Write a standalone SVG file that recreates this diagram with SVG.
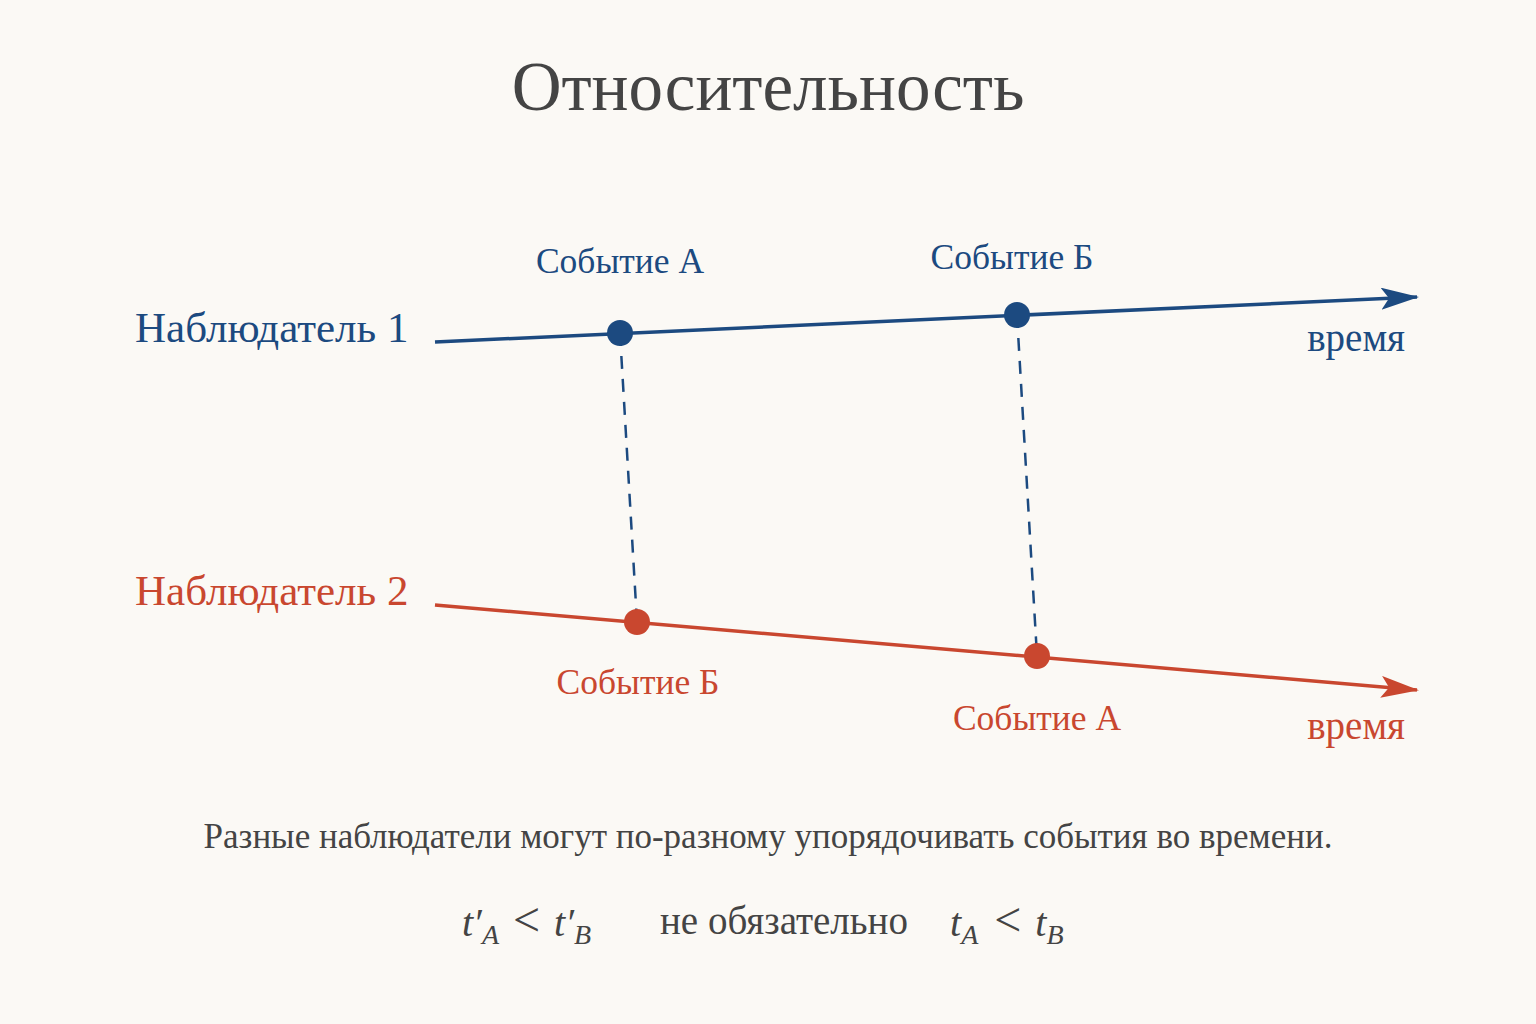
<svg xmlns="http://www.w3.org/2000/svg" width="1536" height="1024" viewBox="0 0 1536 1024">
<style>
text{font-family:"Liberation Serif","DejaVu Serif",serif}
.b{fill:#1c4a80}
.r{fill:#c9472f}
.g{fill:#444444}
.lbl{font-size:43px}
.ev{font-size:35.5px;text-anchor:middle}
.tm{font-size:39px;text-anchor:end}
.m{font-size:40px;font-style:italic}
.s{font-size:28px;font-style:italic}
.lt{font-size:48px}
</style>
<defs>
<marker id="ab" viewBox="0 0 38 22" refX="36" refY="11" markerWidth="38" markerHeight="22" markerUnits="userSpaceOnUse" orient="auto"><path d="M0,0 L38,11 L0,22 L8,11 Z" fill="#1c4a80"/></marker>
<marker id="ar" viewBox="0 0 38 22" refX="36" refY="11" markerWidth="38" markerHeight="22" markerUnits="userSpaceOnUse" orient="auto"><path d="M0,0 L38,11 L0,22 L8,11 Z" fill="#c9472f"/></marker>
</defs>
<rect width="1536" height="1024" fill="#fbf9f5"/>
<text x="768" y="110" text-anchor="middle" font-size="69" class="g">Относительность</text>
<g id="connectors">
<line x1="435" y1="342" x2="1417" y2="297" stroke="#1c4a80" stroke-width="3.5" marker-end="url(#ab)"/>
<line x1="435" y1="605" x2="1417" y2="690" stroke="#c9472f" stroke-width="3.5" marker-end="url(#ar)"/>
<line x1="620" y1="333" x2="637" y2="622" stroke="#1c4a80" stroke-width="2.5" stroke-dasharray="13,10"/>
<line x1="1017" y1="315" x2="1037" y2="656" stroke="#1c4a80" stroke-width="2.5" stroke-dasharray="13,10"/>
</g>
<g id="observer1">
<text x="135" y="342" class="lbl b">Наблюдатель 1</text>
<text x="1405" y="351" class="tm b">время</text>
</g>
<g id="observer2">
<text x="135" y="605" class="lbl r">Наблюдатель 2</text>
<text x="1405" y="739" class="tm r">время</text>
</g>
<g id="eventA1"><circle cx="620" cy="333" r="13" fill="#1c4a80"/><text x="620" y="273" class="ev b">Событие А</text></g>
<g id="eventB1"><circle cx="1017" cy="315" r="13" fill="#1c4a80"/><text x="1012" y="269" class="ev b">Событие Б</text></g>
<g id="eventB2"><circle cx="637" cy="622" r="13" fill="#c9472f"/><text x="638" y="694" class="ev r">Событие Б</text></g>
<g id="eventA2"><circle cx="1037" cy="656" r="13" fill="#c9472f"/><text x="1037" y="730" class="ev r">Событие А</text></g>
<g id="caption">
<text x="462" y="936" class="g"><tspan class="m">t′</tspan><tspan class="s" dy="8">A</tspan><tspan class="lt" dy="-8" dx="14">&lt;</tspan><tspan class="m" dx="14">t′</tspan><tspan class="s" dy="8">B</tspan></text>
<text x="768" y="848" text-anchor="middle" font-size="35" class="g">Разные наблюдатели могут по-разному упорядочивать события во времени.</text>
<text x="660" y="934" font-size="39" class="g">не обязательно</text>
<text x="950" y="936" class="g"><tspan class="m">t</tspan><tspan class="s" dy="8">A</tspan><tspan class="lt" dy="-8" dx="16">&lt;</tspan><tspan class="m" dx="14">t</tspan><tspan class="s" dy="8">B</tspan></text>
</g>
</svg>
